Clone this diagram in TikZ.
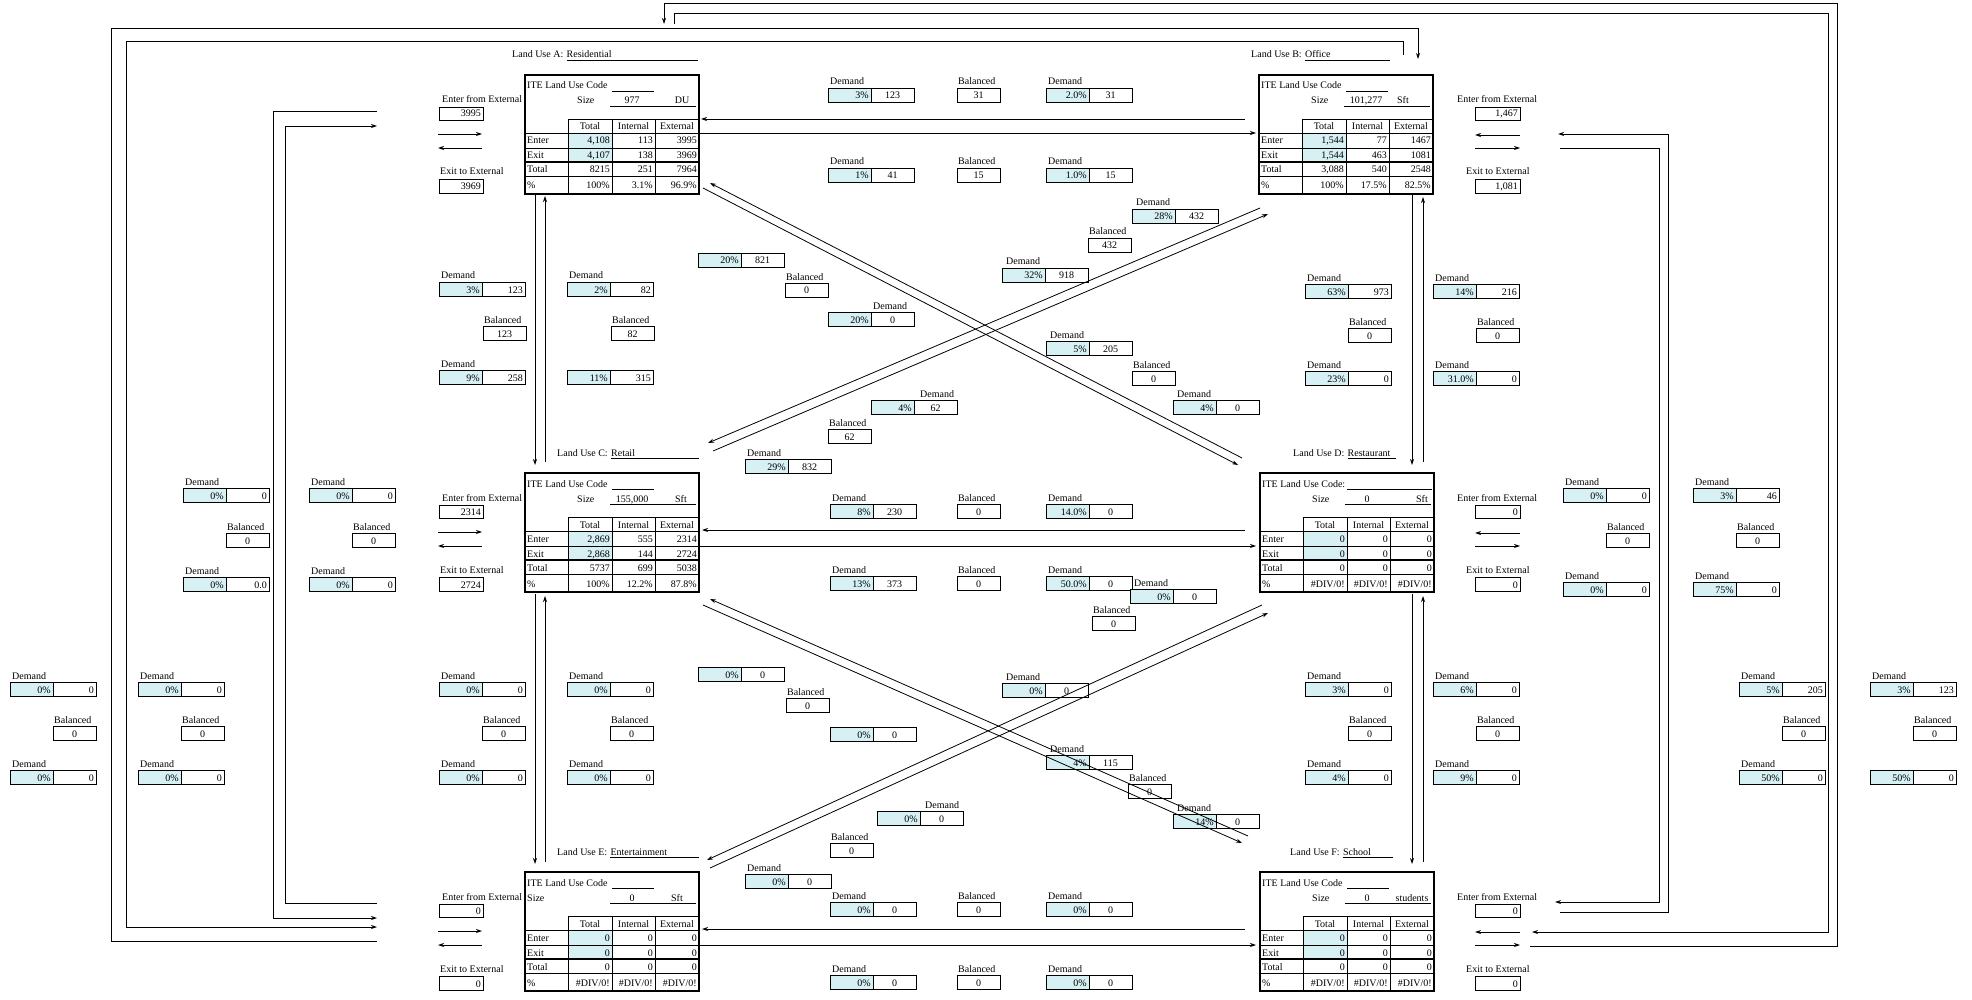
\documentclass[tikz,border=0pt]{standalone}
\usepackage{fontspec}
\setmainfont{Liberation Serif}
\usetikzlibrary{arrows.meta,calc}
\definecolor{cyfill}{RGB}{214,240,244}
\newcommand\fs{\fontsize{10}{12}\selectfont}
\tikzset{
 txt/.style={font=\fs, inner sep=0pt},
 bx/.style={line width=0.7pt},
 frame/.style={line width=1.6pt},
 ln/.style={line width=0.8pt},
 arr/.style={ln, -{Stealth[length=6pt,width=4pt]}},
}
% demand box base
\newcommand\dmdbase[6]{%
 \fill[cyfill] (#2,#3) rectangle (#2+43,#3+14);
 \draw[bx] (#2,#3) rectangle (#2+86,#3+14);
 \draw[bx] (#2+43,#3) -- (#2+43,#3+14);
 \node[txt,anchor=base east] (#1p) at (#2+41,#3+11) {#4};
 \ifx c#6\node[txt,anchor=base] (#1v) at (#2+64.5,#3+11) {#5};
 \else\node[txt,anchor=base east] (#1v) at (#2+84,#3+11) {#5};\fi
}
\newcommand\dmd[7]{\dmdbase{#1}{#2}{#3}{#4}{#5}{#6}\node[txt,anchor=base west] (#1l) at (#2+#7,#3-3) {Demand};}
\newcommand\dmdn[6]{\dmdbase{#1}{#2}{#3}{#4}{#5}{#6}}
\newcommand\bal[4]{%
 \draw[bx] (#2,#3) rectangle (#2+43,#3+14);
 \node[txt,anchor=base] (#1v) at (#2+21.5,#3+11) {#4};
 \node[txt,anchor=base west] (#1l) at (#2+1,#3-3) {Balanced};
}
% land use table
\newcommand\lutab[9]{%
 \node[inner sep=0pt, minimum width=174pt, minimum height=119pt, anchor=north west] (#1) at (#2,#3) {};
 \fill[cyfill] (#2+43,#3+58) rectangle (#2+87,#3+87);
 \draw[bx] (#2+43,#3+44) -- (#2+174,#3+44);
 \draw[bx] (#2,#3+58) -- (#2+174,#3+58);
 \draw[bx] (#2,#3+73) -- (#2+174,#3+73);
 \draw[frame] (#2,#3+87) -- (#2+174,#3+87);
 \draw[bx] (#2,#3+101) -- (#2+174,#3+101);
 \foreach \cc in {43,87,130} {\draw[bx] (#2+\cc,#3+44) -- (#2+\cc,#3+119);}
 \draw[frame] (#2,#3) rectangle (#2+174,#3+119);
 \node[txt,anchor=base west] (#1ite) at (#2+2,#3+14) {ITE Land Use Code#8};
 \draw[bx] (#2+87,#3+16) -- (#2+#9,#3+16);
 \node[txt,anchor=base west] (#1sz) at (#2+#6,#3+29) {Size};
 \node[txt,anchor=base] (#1sv) at (#2+107,#3+29) {#4};
 \node[txt,anchor=base] (#1su) at (#2+#7,#3+29) {#5};
 \draw[bx] (#2+85,#3+31) -- (#2+171,#3+31);
 \node[txt,anchor=base] (#1h1) at (#2+65,#3+55) {Total};
 \node[txt,anchor=base] (#1h2) at (#2+108.5,#3+55) {Internal};
 \node[txt,anchor=base] (#1h3) at (#2+152,#3+55) {External};
}
\newcommand\lurow[8]{%
 \node[txt,anchor=base west] (#1a) at (#2+2,#3+#4) {#5};
 \node[txt,anchor=base east] (#1b) at (#2+85,#3+#4) {#6};
 \node[txt,anchor=base east] (#1c) at (#2+128,#3+#4) {#7};
 \node[txt,anchor=base east] (#1d) at (#2+172,#3+#4) {#8};
}
\newcommand\luname[6]{%
 \node[txt,anchor=base west] (#1) at (#2,#3) {Land Use #4:};
 \coordinate (#1u) at ($(#1.base east)+(3,0)$);
 \node[txt,anchor=base west] (#1n) at (#1u) {#5};
 \draw[bx] ($(#1u)+(0,2.5)$) -- (#6,#3+2.5);
}
\newcommand\extL[5]{%
 \node[txt,anchor=base west] (#1a) at (#2+3,#3+28) {Enter from External};
 \draw[bx] (#2,#3+32) rectangle (#2+44,#3+45);
 \node[txt,anchor=base east] (#1b) at (#2+42,#3+42) {#4};
 \draw[arr] (#2-1,#3+59) -- (#2+43,#3+59);
 \draw[arr] (#2+43,#3+73) -- (#2-1,#3+73);
 \node[txt,anchor=base west] (#1c) at (#2+1,#3+100) {Exit to External};
 \draw[bx] (#2,#3+104) rectangle (#2+44,#3+118);
 \node[txt,anchor=base east] (#1d) at (#2+42,#3+115) {#5};
}
\newcommand\extR[5]{%
 \node[txt,anchor=base west] (#1a) at (#2-18,#3+28) {Enter from External};
 \draw[bx] (#2,#3+32) rectangle (#2+45,#3+45);
 \node[txt,anchor=base east] (#1b) at (#2+43,#3+42) {#4};
 \draw[arr] (#2+45,#3+60) -- (#2,#3+60);
 \draw[arr] (#2,#3+73) -- (#2+45,#3+73);
 \node[txt,anchor=base west] (#1c) at (#2-9,#3+100) {Exit to External};
 \draw[bx] (#2,#3+104) rectangle (#2+45,#3+118);
 \node[txt,anchor=base east] (#1d) at (#2+43,#3+115) {#5};
}
\begin{document}
\begin{tikzpicture}[x=1pt,y=-1pt]
\fill[white] (0,0) rectangle (1972,1000);
\useasboundingbox (0,0) rectangle (1972,1000);

% ---------- tables ----------
\lutab{tA}{525}{75}{977}{DU}{52}{157}{}{129}
\lurow{tAr1}{525}{75}{69}{Enter}{4,108}{113}{3995}
\lurow{tAr2}{525}{75}{84}{Exit}{4,107}{138}{3969}
\lurow{tAr3}{525}{75}{98}{Total}{8215}{251}{7964}
\lurow{tAr4}{525}{75}{114}{\%}{100\%}{3.1\%}{96.9\%}

\lutab{tB}{1259}{75}{101,277}{Sft}{52}{144}{}{129}
\lurow{tBr1}{1259}{75}{69}{Enter}{1,544}{77}{1467}
\lurow{tBr2}{1259}{75}{84}{Exit}{1,544}{463}{1081}
\lurow{tBr3}{1259}{75}{98}{Total}{3,088}{540}{2548}
\lurow{tBr4}{1259}{75}{114}{\%}{100\%}{17.5\%}{82.5\%}

\lutab{tC}{525}{473}{155,000}{Sft}{52}{156}{}{129}
\lurow{tCr1}{525}{473}{69}{Enter}{2,869}{555}{2314}
\lurow{tCr2}{525}{473}{84}{Exit}{2,868}{144}{2724}
\lurow{tCr3}{525}{473}{98}{Total}{5737}{699}{5038}
\lurow{tCr4}{525}{473}{114}{\%}{100\%}{12.2\%}{87.8\%}

\lutab{tD}{1260}{473}{0}{Sft}{52}{162}{:}{172}
\lurow{tDr1}{1260}{473}{69}{Enter}{0}{0}{0}
\lurow{tDr2}{1260}{473}{84}{Exit}{0}{0}{0}
\lurow{tDr3}{1260}{473}{98}{Total}{0}{0}{0}
\lurow{tDr4}{1260}{473}{114}{\%}{\#DIV/0!}{\#DIV/0!}{\#DIV/0!}

\lutab{tE}{525}{872}{0}{Sft}{2}{152}{}{129}
\lurow{tEr1}{525}{872}{69}{Enter}{0}{0}{0}
\lurow{tEr2}{525}{872}{84}{Exit}{0}{0}{0}
\lurow{tEr3}{525}{872}{98}{Total}{0}{0}{0}
\lurow{tEr4}{525}{872}{114}{\%}{\#DIV/0!}{\#DIV/0!}{\#DIV/0!}

\lutab{tF}{1260}{872}{0}{students}{52}{152}{}{129}
\lurow{tFr1}{1260}{872}{69}{Enter}{0}{0}{0}
\lurow{tFr2}{1260}{872}{84}{Exit}{0}{0}{0}
\lurow{tFr3}{1260}{872}{98}{Total}{0}{0}{0}
\lurow{tFr4}{1260}{872}{114}{\%}{\#DIV/0!}{\#DIV/0!}{\#DIV/0!}

% ---------- names ----------
\luname{nA}{512}{58}{A}{Residential}{698}
\luname{nB}{1251}{58}{B}{Office}{1390}
\luname{nC}{557}{456}{C}{Retail}{699}
\luname{nD}{1293}{456}{D}{Restaurant}{1396}
\luname{nE}{557}{855}{E}{Entertainment}{699}
\luname{nF}{1290}{855}{F}{School}{1393}

% ---------- external ----------
\extL{eA}{439}{75}{3995}{3969}
\extR{eB}{1475}{75}{1,467}{1,081}
\extL{eC}{439}{473}{2314}{2724}
\extR{eD}{1475}{473}{0}{0}
\extL{eE}{439}{872}{0}{0}
\extR{eF}{1475}{872}{0}{0}

% ---------- demand / balanced ----------
\dmd{d1}{828}{88}{3\%}{123}{c}{2}
\bal{b1}{957}{88}{31}
\dmd{d2}{1046}{88}{2.0\%}{31}{c}{2}
\dmd{d3}{828}{168}{1\%}{41}{c}{2}
\bal{b2}{957}{168}{15}
\dmd{d4}{1046}{168}{1.0\%}{15}{c}{2}

\dmd{d5}{439}{282}{3\%}{123}{r}{2}
\bal{b3}{483}{326}{123}
\dmd{d6}{439}{370}{9\%}{258}{r}{2}
\dmd{d7}{567}{282}{2\%}{82}{r}{2}
\bal{b4}{611}{326}{82}
\dmdn{d8}{567}{370}{11\%}{315}{r}

\dmdn{d9}{698}{253}{20\%}{821}{c}
\bal{b5}{785}{283}{0}
\dmd{d10}{828}{312}{20\%}{0}{c}{45}
\dmd{d11}{1132}{209}{28\%}{432}{c}{4}
\bal{b6}{1088}{238}{432}
\dmd{d12}{1002}{268}{32\%}{918}{c}{4}
\dmd{d13}{1046}{341}{5\%}{205}{c}{4}
\bal{b7}{1132}{371}{0}
\dmd{d14}{1173}{400}{4\%}{0}{c}{4}
\dmd{d15}{871}{400}{4\%}{62}{c}{49}
\bal{b8}{828}{429}{62}
\dmd{d16}{745}{459}{29\%}{832}{c}{2}

\dmd{d17}{1305}{284}{63\%}{973}{r}{2}
\bal{b9}{1348}{328}{0}
\dmd{d18}{1305}{371}{23\%}{0}{r}{2}
\dmd{d19}{1433}{284}{14\%}{216}{r}{2}
\bal{b10}{1476}{328}{0}
\dmd{d20}{1433}{371}{31.0\%}{0}{r}{2}

\dmd{d21}{830}{504}{8\%}{230}{c}{2}
\bal{b11}{957}{504}{0}
\dmd{d22}{1046}{504}{14.0\%}{0}{c}{2}
\dmd{d23}{830}{576}{13\%}{373}{c}{2}
\bal{b12}{957}{576}{0}
\dmd{d24}{1046}{576}{50.0\%}{0}{c}{2}

\dmd{d25}{830}{902}{0\%}{0}{c}{2}
\bal{b13}{957}{902}{0}
\dmd{d26}{1046}{902}{0\%}{0}{c}{2}
\dmd{d27}{830}{975}{0\%}{0}{c}{2}
\bal{b14}{957}{975}{0}
\dmd{d28}{1046}{975}{0\%}{0}{c}{2}

\dmd{d29}{183}{488}{0\%}{0}{r}{2}
\bal{b15}{226}{533}{0}
\dmd{d30}{183}{577}{0\%}{0.0}{r}{2}
\dmd{d31}{309}{488}{0\%}{0}{r}{2}
\bal{b16}{352}{533}{0}
\dmd{d32}{309}{577}{0\%}{0}{r}{2}

\dmd{d33}{1563}{488}{0\%}{0}{r}{2}
\bal{b17}{1606}{533}{0}
\dmd{d34}{1563}{582}{0\%}{0}{r}{2}
\dmd{d35}{1693}{488}{3\%}{46}{r}{2}
\bal{b18}{1736}{533}{0}
\dmd{d36}{1693}{582}{75\%}{0}{r}{2}

\dmd{d37}{439}{682}{0\%}{0}{r}{2}
\bal{b19}{482}{726}{0}
\dmd{d38}{439}{770}{0\%}{0}{r}{2}
\dmd{d39}{567}{682}{0\%}{0}{r}{2}
\bal{b20}{610}{726}{0}
\dmd{d40}{567}{770}{0\%}{0}{r}{2}

\dmd{d41}{10}{682}{0\%}{0}{r}{2}
\bal{b21}{53}{726}{0}
\dmd{d42}{10}{770}{0\%}{0}{r}{2}
\dmd{d43}{138}{682}{0\%}{0}{r}{2}
\bal{b22}{181}{726}{0}
\dmd{d44}{138}{770}{0\%}{0}{r}{2}

\dmd{d45}{1305}{682}{3\%}{0}{r}{2}
\bal{b23}{1348}{726}{0}
\dmd{d46}{1305}{770}{4\%}{0}{r}{2}
\dmd{d47}{1433}{682}{6\%}{0}{r}{2}
\bal{b24}{1476}{726}{0}
\dmd{d48}{1433}{770}{9\%}{0}{r}{2}

\dmd{d49}{1739}{682}{5\%}{205}{r}{2}
\bal{b25}{1782}{726}{0}
\dmd{d50}{1739}{770}{50\%}{0}{r}{2}
\dmd{d51}{1870}{682}{3\%}{123}{r}{2}
\bal{b26}{1913}{726}{0}
\dmdn{d52}{1870}{770}{50\%}{0}{r}

\dmd{d53}{1130}{589}{0\%}{0}{c}{4}
\bal{b27}{1092}{616}{0}
\dmd{d54}{1002}{683}{0\%}{0}{c}{4}
\dmdn{d55}{698}{667}{0\%}{0}{c}
\bal{b28}{786}{698}{0}
\dmdn{d56}{830}{727}{0\%}{0}{c}
\dmd{d57}{1046}{755}{4\%}{115}{c}{4}
\bal{b29}{1128}{784}{0}
\dmd{d58}{1173}{814}{14\%}{0}{c}{4}
\dmd{d59}{877}{811}{0\%}{0}{c}{48}
\bal{b30}{830}{843}{0}
\dmd{d60}{745}{874}{0\%}{0}{c}{2}

% ---------- connectors: horizontal ----------
\draw[arr] (1245,119) -- (701,119);
\draw[arr] (699,133) -- (1256,133);
\draw[arr] (1245,530) -- (702,530);
\draw[arr] (699,546) -- (1256,546);
\draw[arr] (1245,929) -- (702,929);
\draw[arr] (699,945) -- (1256,945);
% vertical
\draw[arr] (535,194) -- (535,465);
\draw[arr] (545,462) -- (545,196);
\draw[arr] (535,594) -- (535,864);
\draw[arr] (545,862) -- (545,596);
\draw[arr] (1412,195) -- (1412,465);
\draw[arr] (1423,462) -- (1423,197);
\draw[arr] (1412,594) -- (1412,864);
\draw[arr] (1423,862) -- (1423,596);
% diagonals
\draw[arr] (1242,458) -- (710,183);
\draw[arr] (703,188) -- (1238,465);
\draw[arr] (1260,208) -- (708,443);
\draw[arr] (713,451) -- (1268,214);
\draw[arr] (1248,836) -- (710,599);
\draw[arr] (703,605) -- (1242,843);
\draw[arr] (1262,605) -- (707,860);
\draw[arr] (710,868) -- (1268,613);
% loops left
\draw[arr] (377,941) -- (111,941) -- (111,28) -- (1418,28) -- (1418,59);
\draw[arr] (1403,55) -- (1403,41) -- (126,41) -- (126,927) -- (377,927);
\draw[arr] (377,111) -- (273,111) -- (273,918) -- (377,918);
\draw[arr] (377,903) -- (285,903) -- (285,126) -- (377,126);
% loops right
\draw[arr] (1560,912) -- (1668,912) -- (1668,134) -- (1558,134);
\draw[arr] (1560,148) -- (1659,148) -- (1659,902) -- (1555,902);
\draw[arr] (674,24) -- (674,13) -- (1828,13) -- (1828,932) -- (1532,932);
\draw[arr] (1530,946) -- (1837,946) -- (1837,3) -- (664,3) -- (664,24);
\end{tikzpicture}
\end{document}
